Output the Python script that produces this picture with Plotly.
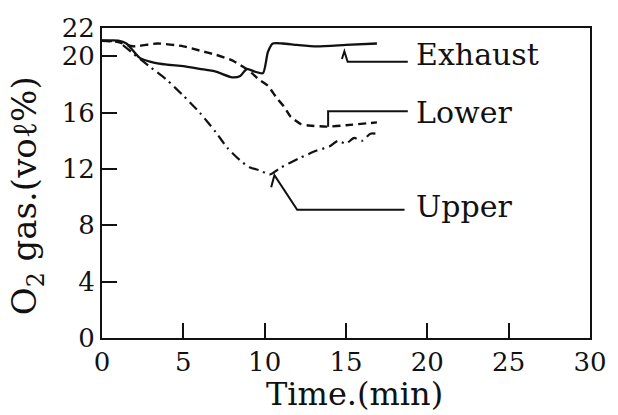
import plotly.graph_objects as go

# ---- data ----
exhaust_t = [0, 1, 1.5, 2.3, 3, 4, 5, 6, 7, 8, 8.5, 8.9, 9.4, 9.9, 10.2, 10.5, 11.1, 12, 13.2, 15, 16.9]
exhaust_o2 = [21.1, 21.1, 20.9, 19.9, 19.6, 19.4, 19.3, 19.1, 18.9, 18.5, 18.6, 19.1, 18.9, 18.8, 20.3, 20.9, 20.9, 20.8, 20.7, 20.8, 20.9]

lower_t = [0, 1, 1.9, 3.4, 5, 6, 7, 8, 9, 9.7, 10.2, 10.7, 11.2, 11.6, 12.2, 12.6, 13.8, 15, 16.9]
lower_o2 = [21.1, 21.0, 20.7, 20.9, 20.7, 20.4, 20.1, 19.7, 19.0, 18.3, 17.9, 17.1, 16.4, 15.7, 15.2, 15.1, 15.0, 15.1, 15.3]

upper_t = [0, 1, 1.9, 3, 4, 5, 6, 7, 7.7, 8.5, 9.1, 9.7, 10.3, 11, 12.2, 13.2, 14, 14.5, 15, 15.5, 16, 16.5, 16.9]
upper_o2 = [21.1, 21.0, 20.2, 19.2, 18.3, 17.2, 16.0, 14.6, 13.5, 12.6, 12.1, 11.9, 11.6, 12.1, 12.8, 13.3, 13.6, 14.0, 13.8, 14.2, 14.0, 14.5, 14.5]

x_ticks = [0, 5, 10, 15, 20, 25, 30]
y_ticks = [0, 4, 8, 12, 16, 20, 22]

x_title = "Time.(min)"
y_title = "O<sub>2</sub> gas.(voℓ%)"

labels = ["Exhaust", "Lower", "Upper"]
label_x = [19.2, 19.2, 19.2]
label_y = [20.1, 16.0, 9.3]

# leader lines (data coordinates)
leader_x = [[14.75, 14.9, 15.1, 18.8],
            [13.9, 13.9, 18.8],
            [10.4, 10.6, 12.0, 18.6]]
leader_y = [[19.8, 20.35, 19.6, 19.6],
            [15.0, 16.1, 16.1],
            [10.7, 11.55, 9.1, 9.1]]

FONT = "DejaVu Serif"
INK = "#111111"

fig = go.Figure()
fig.add_trace(go.Scatter(x=exhaust_t, y=exhaust_o2, mode="lines", line=dict(color=INK, width=2.3, shape="spline", smoothing=0.6)))
fig.add_trace(go.Scatter(x=lower_t, y=lower_o2, mode="lines", line=dict(color=INK, width=2.4, dash="8px,5px", shape="spline", smoothing=0.6)))
fig.add_trace(go.Scatter(x=upper_t, y=upper_o2, mode="lines", line=dict(color=INK, width=2.2, dash="10px,5px,2px,5px", shape="spline", smoothing=0.6)))

for lx, ly in zip(leader_x, leader_y):
    path = "M " + " L ".join(f"{a},{b}" for a, b in zip(lx, ly))
    fig.add_shape(type="path", path=path, xref="x", yref="y", line=dict(color=INK, width=2))

for t, x, y in zip(labels, label_x, label_y):
    fig.add_annotation(x=x, y=y, text=t, showarrow=False, xanchor="left", yanchor="middle",
                       font=dict(family=FONT, size=30, color=INK))

# axis titles placed as paper-referenced annotations
fig.add_annotation(xref="paper", yref="paper", x=0.518, y=-0.182, text=x_title, showarrow=False,
                   xanchor="center", yanchor="middle", font=dict(family=FONT, size=32, color=INK))
fig.add_annotation(xref="paper", yref="paper", x=-0.154, y=0.46, text=y_title, showarrow=False,
                   textangle=-90, xanchor="center", yanchor="middle", font=dict(family=FONT, size=34, color=INK))

fig.update_layout(
    width=618, height=415,
    margin=dict(l=102, r=28, t=28, b=77),
    paper_bgcolor="white", plot_bgcolor="white",
    showlegend=False,
    font=dict(family=FONT, color=INK),
    xaxis=dict(range=[0, 30], tickvals=x_ticks, ticks="inside", ticklen=15, tickwidth=2, tickcolor=INK,
               showline=True, linewidth=2, linecolor=INK, mirror=True, showgrid=False, zeroline=False,
               tickfont=dict(family=FONT, size=26, color=INK)),
    yaxis=dict(range=[0, 22], tickvals=y_ticks, ticks="inside", ticklen=15, tickwidth=2, tickcolor=INK,
               showline=True, linewidth=2, linecolor=INK, mirror=True, showgrid=False, zeroline=False,
               tickfont=dict(family=FONT, size=26, color=INK)),
)

fig.write_html("out.html")
